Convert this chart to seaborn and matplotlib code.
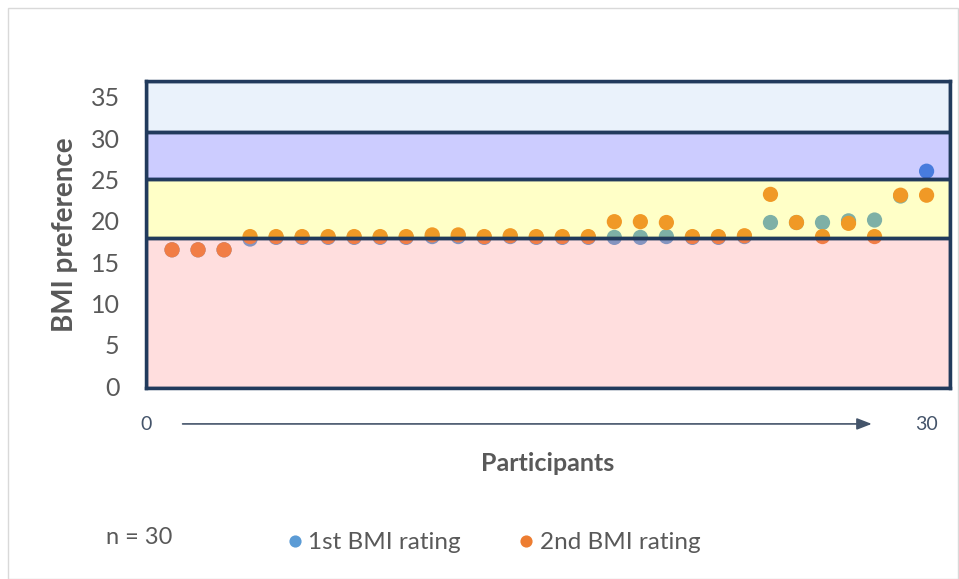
import seaborn as sns
import matplotlib.pyplot as plt
import matplotlib.transforms as mtransforms
from matplotlib.patches import Rectangle
import pandas as pd

# BMI preference per participant
participants = list(range(1, 31))
first_rating = [16.5, 16.5, 16.5, 17.8, 18.0, 18.0, 18.0, 18.0, 18.0, 18.0,
                18.1, 18.1, 18.0, 18.1, 18.0, 18.0, 18.0, 18.0, 18.0, 18.1,
                18.0, 18.0, 18.1, 19.8, 19.8, 19.8, 20.0, 20.1, 23.0, 26.0]
second_rating = [16.5, 16.5, 16.5, 18.1, 18.1, 18.1, 18.1, 18.1, 18.1, 18.1,
                 18.3, 18.3, 18.1, 18.2, 18.1, 18.1, 18.1, 19.9, 19.9, 19.8,
                 18.1, 18.1, 18.2, 23.2, 19.8, 18.1, 19.7, 18.1, 23.1, 23.1]
series_names = ['1st BMI rating', '2nd BMI rating']

# BMI category bands (lower, upper, colour)
band_edges = [-0.2, 17.9, 25.0, 30.7, 36.9]
band_colors = [(1.0, 0.5, 0.5, 0.26), (1.0, 1.0, 0.0, 0.22),
               (0.0, 0.0, 1.0, 0.2), (0.1, 0.45, 0.85, 0.09)]

df = pd.DataFrame({
    'Participant': participants * 2,
    'BMI': first_rating + second_rating,
    'Rating': [series_names[0]] * 30 + [series_names[1]] * 30,
})

sns.set_style('white')
plt.rcParams['font.family'] = ['Lato', 'DejaVu Sans']

fig = plt.figure(figsize=(9.59, 5.79), dpi=100)
ax = fig.add_axes([146 / 959, 1 - 388 / 579, (950 - 146) / 959, (388 - 81) / 579])

sns.scatterplot(data=df, x='Participant', y='BMI', hue='Rating',
                palette=['#5B9BD5', '#ED7D31'], s=120, linewidth=0,
                ax=ax, zorder=2)

navy = '#213A5C'
for lo, hi, c in zip(band_edges[:-1], band_edges[1:], band_colors):
    ax.axhspan(lo, hi, facecolor=c, edgecolor=navy, linewidth=2.5, zorder=3)

ax.set_xlim(0, 30.9)
ax.set_ylim(band_edges[0], band_edges[-1])
ax.set_yticks(range(0, 40, 5))
ax.tick_params(axis='y', length=0, labelsize=18, labelcolor='#595959', pad=19)
ax.set_xticks([0, 30])
ax.tick_params(axis='x', length=0, labelsize=14, labelcolor='#44546A', pad=20)
for sp in ax.spines.values():
    sp.set_color(navy)
    sp.set_linewidth(2.5)
    sp.set_zorder(4)

ax.set_ylabel('BMI preference', fontsize=20, fontweight='bold', color='#595959', labelpad=9)
ax.set_xlabel('Participants', fontsize=18, fontweight='bold', color='#595959', labelpad=14)

# arrow along the participant axis
trans = mtransforms.blended_transform_factory(ax.transData, ax.transAxes)
ax.annotate('', xy=(28.0, -0.117), xytext=(1.3, -0.117), xycoords=trans, textcoords=trans,
            arrowprops=dict(arrowstyle='-|>,head_length=0.9,head_width=0.35',
                            color='#44546A', lw=1.2), annotation_clip=False)

sns.move_legend(ax, 'center', bbox_to_anchor=(0.506, 0.063),
                bbox_transform=fig.transFigure, ncol=2, frameon=False, title=None,
                fontsize=17.5, handletextpad=-0.45, columnspacing=1.7, markerscale=0.8)
for t in ax.get_legend().get_texts():
    t.set_color('#595959')

fig.text(106 / 959, 1 - 538 / 579, 'n = 30', fontsize=17, color='#595959', va='center')

fig.patches.append(Rectangle((8 / 959, 0.0), 950 / 959, 1 - 8 / 579, transform=fig.transFigure,
                             fill=False, edgecolor='#D9D9D9', linewidth=1))

fig.savefig('out.png', dpi=100)
